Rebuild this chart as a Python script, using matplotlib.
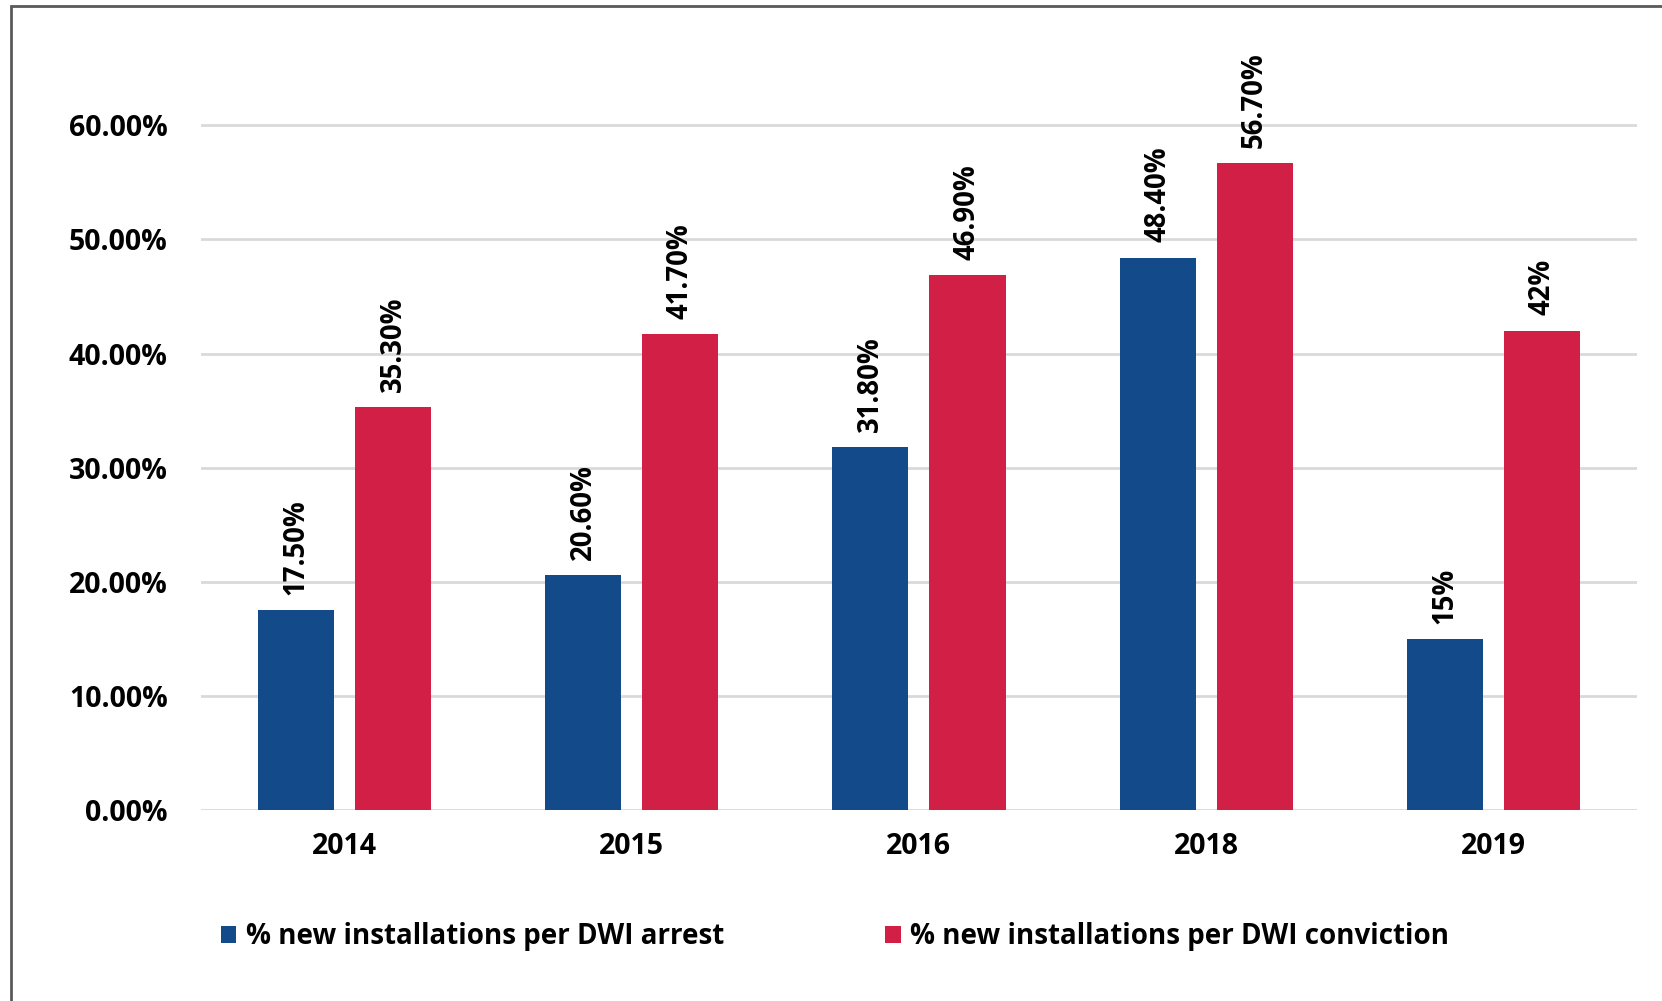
import matplotlib
matplotlib.use("Agg")
import matplotlib.pyplot as plt
from matplotlib.patches import Patch, Rectangle
import numpy as np

plt.rcParams['font.family'] = ['Open Sans', 'DejaVu Sans']

years = ["2014", "2015", "2016", "2018", "2019"]
arrest = [17.5, 20.6, 31.8, 48.4, 15.0]
conviction = [35.3, 41.7, 46.9, 56.7, 42.0]
arrest_labels = ["17.50%", "20.60%", "31.80%", "48.40%", "15%"]
conviction_labels = ["35.30%", "41.70%", "46.90%", "56.70%", "42%"]
yticks = [0, 10, 20, 30, 40, 50, 60]
series_names = ["% new installations per DWI arrest",
                "% new installations per DWI conviction"]

BLUE = "#134B8A"
RED = "#D11F45"

fig = plt.figure(figsize=(16.62, 10.01), dpi=100)
ax = fig.add_axes([0.1209, 0.1908, 0.864, 0.741])

x = np.arange(len(years))
w = 0.265
off = 0.169
b1 = ax.bar(x - off, arrest, w, color=BLUE, zorder=3)
b2 = ax.bar(x + off, conviction, w, color=RED, zorder=3)

for xi, v, lab in zip(x - off, arrest, arrest_labels):
    ax.annotate(lab, (xi, v), xytext=(0, 11), textcoords="offset points",
                rotation=90, ha="center", va="bottom", fontsize=19.8,
                fontweight="bold", color="black")
for xi, v, lab in zip(x + off, conviction, conviction_labels):
    ax.annotate(lab, (xi, v), xytext=(0, 11), textcoords="offset points",
                rotation=90, ha="center", va="bottom", fontsize=19.8,
                fontweight="bold", color="black", annotation_clip=False)

ax.set_xlim(-0.5, len(years) - 0.5)
ax.set_ylim(0, 65)
ax.set_yticks(yticks)
ax.set_yticklabels([f"{t:.2f}%" for t in yticks], fontsize=20.5, fontweight="bold")
ax.set_xticks(x)
ax.set_xticklabels(years, fontsize=20.5, fontweight="bold")
ax.tick_params(axis="both", length=0)
ax.tick_params(axis="y", pad=24)
ax.tick_params(axis="x", pad=16)
ax.grid(axis="y", color="#D9D9D9", linewidth=2, zorder=0)
for s in ax.spines.values():
    s.set_visible(False)

handles = [Patch(facecolor=BLUE), Patch(facecolor=RED)]
fig.legend(handles, series_names, loc="center left",
           bbox_to_anchor=(0.118, 0.064), ncol=2, frameon=False,
           prop={"size": 20, "weight": "bold"}, handlelength=0.55,
           handleheight=0.55, handletextpad=0.35, columnspacing=5.8)

# outer frame (left and top visible)
fig.patches.append(Rectangle((11 / 1662, -0.05), 1.2, 1 - 6 / 1001 + 0.05,
                             transform=fig.transFigure, fill=False,
                             edgecolor="#595959", linewidth=2))

fig.savefig("out.png", dpi=100, facecolor="white")
